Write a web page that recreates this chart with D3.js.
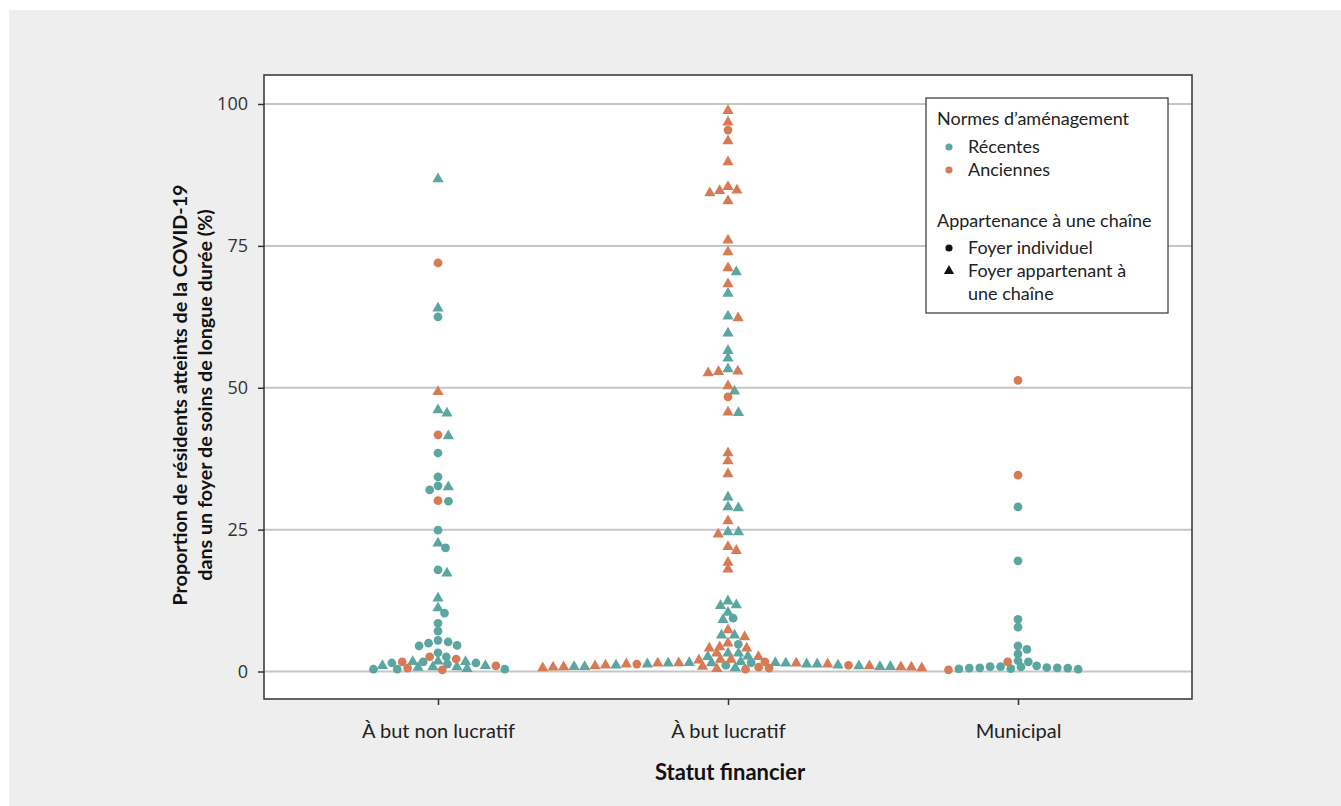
<!DOCTYPE html>
<html><head><meta charset="utf-8">
<script src="https://cdn.jsdelivr.net/npm/d3@7"></script>
<style>body{margin:0;background:#fff}svg{display:block}</style>
</head><body>
<script>
// ---------- DATA ----------
const categories = ["À but non lucratif", "À but lucratif", "Municipal"];
const yTicks = [0, 25, 50, 75, 100];
const normLabels = ["Récentes", "Anciennes"];
const chainLabels = ["Foyer individuel", "Foyer appartenant à une chaîne"];

// À but non lucratif
const nlRecentesIndividuel = [62.5, 38.5, 34.3, 32.7, 32.0, 30.0, 24.9, 21.8, 17.9, 10.3, 8.5, 7.1,
  4.5, 5.0, 5.5, 5.2, 4.6, 3.3, 2.6, 1.5, 1.5, 0.4, 1.3, 1.7, 0.4, 0.4];
const nlRecentesChaine = [86.8, 64.0, 46.1, 45.5, 41.5, 32.5, 22.6, 17.3, 12.9, 11.2,
  1.0, 1.0, 0.8, 1.8, 0.7, 1.7, 1.7, 0.8, 0.5];
const nlAnciennesIndividuel = [72.0, 41.7, 30.1, 2.2, 2.6, 1.7, 0.3, 0.6, 1.0];
const nlAnciennesChaine = [49.3];

// À but lucratif
const lRecentesIndividuel = [9.4, 4.8, 1.55, 1.1];
const lRecentesChaine = [70.4, 66.6, 62.6, 59.6, 56.5, 55.2, 53.3, 49.4, 45.6, 30.7, 29.0, 28.8, 24.6, 24.6,
  12.4, 11.6, 11.7, 10.4, 9.1, 6.4, 6.4,
  2.6, 3.2, 3.2, 2.7, 1.7, 1.5, 0.6,
  0.85, 0.85, 0.85, 1.1, 1.3, 1.3, 1.55, 1.55,
  1.45, 1.45, 1.3, 1.1, 0.95, 0.85];
const lAnciennesIndividuel = [95.4, 48.4, 1.7, 0.75, 1.3, 1.1, 0.6, 0.4];
const lAnciennesChaine = [98.8, 96.8, 93.5, 89.8, 85.4, 84.8, 84.7, 84.3, 82.9, 76.0, 73.9, 71.1, 68.3, 62.3,
  52.9, 52.8, 52.6, 50.3, 45.7, 38.5, 37.1, 34.8, 26.5, 24.2, 22.0, 21.3, 19.2, 18.0, 7.3, 6.1,
  4.1, 4.3, 5.0, 4.1, 2.6, 3.2, 2.0, 2.1, 2.1, 1.5, 0.8, 0.8, 0.6, 0.9, 0.5,
  0.75, 0.95, 1.1, 1.3, 1.45, 1.45,
  1.3, 0.95, 0.75, 0.6];

// Municipal
const mRecentesIndividuel = [29.0, 19.5, 9.2, 7.8, 4.5, 3.9, 3.1, 1.9, 1.7, 0.8,
  1.0, 0.6, 0.6, 0.5, 0.45, 0.4, 0.85, 0.85, 0.7, 0.65, 0.65];
const mRecentesChaine = [];
const mAnciennesIndividuel = [51.3, 34.6, 1.7, 0.3];
const mAnciennesChaine = [];

// ---------- BUILD ----------
const groups = [
  [nlRecentesIndividuel, nlRecentesChaine, nlAnciennesIndividuel, nlAnciennesChaine],
  [lRecentesIndividuel, lRecentesChaine, lAnciennesIndividuel, lAnciennesChaine],
  [mRecentesIndividuel, mRecentesChaine, mAnciennesIndividuel, mAnciennesChaine]
];
const points = [];
groups.forEach((arrs, gi) => {
  arrs.forEach((arr, ai) => {
    const norm = ai < 2 ? 0 : 1;
    const chain = ai % 2;
    arr.forEach(v => points.push({cat: categories[gi], v, norm, chain}));
  });
});

const W = 1341, H = 806;
const panel = {x0: 264, x1: 1192, y0: 75, y1: 699};
const colors = ["#5ba6a1", "#d77b55"];
const FONT = "Lato, 'Noto Sans', sans-serif";

const svg = d3.select("body").append("svg").attr("width", W).attr("height", H);
svg.append("rect").attr("width", W).attr("height", H).attr("fill", "#ffffff");
svg.append("rect").attr("x", 9).attr("y", 10).attr("width", W - 9).attr("height", H - 10).attr("fill", "#eeeeee");
svg.append("rect").attr("x", panel.x0).attr("y", panel.y0)
  .attr("width", panel.x1 - panel.x0).attr("height", panel.y1 - panel.y0).attr("fill", "#ffffff");

const y = d3.scaleLinear().domain([0, 100]).range([671.5, 104]);
const x = d3.scalePoint().domain(categories).range([438, 1018]);

// grid
svg.append("g").selectAll("line").data(yTicks).join("line")
  .attr("x1", panel.x0).attr("x2", panel.x1)
  .attr("y1", d => y(d)).attr("y2", d => y(d))
  .attr("stroke", "#c6c6c6").attr("stroke-width", 2);

// swarm layout (descending priority, elliptical collision)
const CW = 10.5, CH = 6.5;
categories.forEach(cat => {
  const pts = points.filter(p => p.cat === cat);
  pts.forEach(p => p.py = y(p.v));
  const order = pts.slice().sort((a, b) => b.v - a.v);
  const placed = [];
  order.forEach(p => {
    let cands = [0];
    placed.forEach(q => {
      const dy = p.py - q.py;
      if (Math.abs(dy) < CH) {
        const dx = CW * Math.sqrt(1 - (dy / CH) ** 2);
        cands.push(q.off + dx, q.off - dx);
      }
    });
    cands = cands.filter(c => placed.every(q =>
      ((c - q.off) / CW) ** 2 + ((p.py - q.py) / CH) ** 2 >= 1 - 1e-6));
    cands.sort((a, b) => (Math.abs(a) - Math.abs(b)) || (b - a));
    p.off = cands[0];
    placed.push(p);
  });
});

const circleSym = d3.symbol().type(d3.symbolCircle).size(60);
const triSym = d3.symbol().type(d3.symbolTriangle).size(55);
svg.append("g").selectAll("path").data(points).join("path")
  .attr("transform", p => `translate(${x(p.cat) + p.off},${p.py})`)
  .attr("d", p => p.chain === 0 ? circleSym() : triSym())
  .attr("fill", p => colors[p.norm]);

// panel border
svg.append("rect").attr("x", panel.x0).attr("y", panel.y0)
  .attr("width", panel.x1 - panel.x0).attr("height", panel.y1 - panel.y0)
  .attr("fill", "none").attr("stroke", "#333").attr("stroke-width", 1.5);

// axes
const gy = svg.append("g").attr("transform", `translate(${panel.x0},0)`)
  .call(d3.axisLeft(y).tickValues(yTicks).tickSize(6).tickPadding(10));
gy.select(".domain").remove();
gy.selectAll("line").attr("stroke", "#333").attr("stroke-width", 1.5);
gy.selectAll("text").attr("font-family", "'Open Sans', sans-serif").attr("font-size", 18).attr("fill", "#333");

const gx = svg.append("g").attr("transform", `translate(0,${panel.y1})`)
  .call(d3.axisBottom(x).tickSize(6));
gx.select(".domain").remove();
gx.selectAll("line").attr("stroke", "#333").attr("stroke-width", 1.5);
gx.selectAll("text").attr("y", 39).attr("dy", 0)
  .attr("font-family", FONT).attr("font-size", 20).attr("fill", "#222");

// axis titles
svg.append("text").attr("x", 730).attr("y", 780).attr("text-anchor", "middle")
  .attr("font-family", FONT).attr("font-weight", "bold").attr("font-size", 22).attr("fill", "#111")
  .text("Statut financier");
const yt = svg.append("text").attr("transform", "translate(0,395) rotate(-90)")
  .attr("text-anchor", "middle").attr("font-family", FONT).attr("font-weight", "bold")
  .attr("font-size", 19.7).attr("fill", "#111");
yt.append("tspan").attr("x", 0).attr("y", 187).text("Proportion de résidents atteints de la COVID-19");
yt.append("tspan").attr("x", 0).attr("y", 212).text("dans un foyer de soins de longue durée (%)");

// legend
const lg = svg.append("g");
lg.append("rect").attr("x", 926).attr("y", 98).attr("width", 242).attr("height", 215)
  .attr("fill", "#fff").attr("stroke", "#333").attr("stroke-width", 1.2);
const lt = (t, xx, yy) => lg.append("text").attr("x", xx).attr("y", yy)
  .attr("font-family", FONT).attr("font-size", 18).attr("fill", "#222").text(t);
lt("Normes d’aménagement", 937, 125);
normLabels.forEach((n, i) => {
  lg.append("path").attr("transform", `translate(949,${147 + 23 * i})`)
    .attr("d", d3.symbol().type(d3.symbolCircle).size(40)()).attr("fill", colors[i]);
  lt(n, 968, 153 + 23 * i);
});
lt("Appartenance à une chaîne", 937, 227);
lg.append("path").attr("transform", "translate(949,248)")
  .attr("d", d3.symbol().type(d3.symbolCircle).size(40)()).attr("fill", "#111");
lg.append("path").attr("transform", "translate(949,271)")
  .attr("d", d3.symbol().type(d3.symbolTriangle).size(45)()).attr("fill", "#111");
lt("Foyer individuel", 968, 254);
lt("Foyer appartenant à", 968, 277);
lt("une chaîne", 968, 300);
</script>
</body></html>
